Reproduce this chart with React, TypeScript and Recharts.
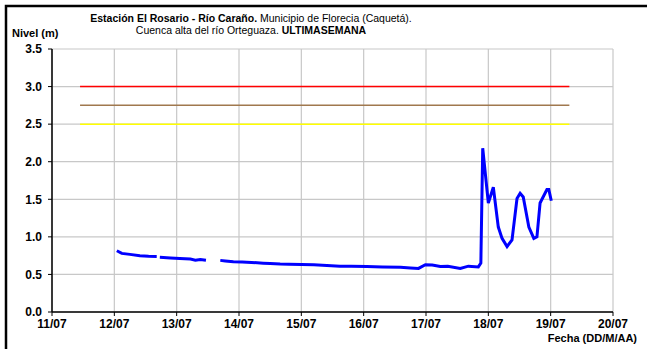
import { LineChart, Line, XAxis, YAxis, CartesianGrid, ReferenceLine } from 'recharts';

// fecha (dia de julio, fraccion = hora) y nivel en m; null = sin dato
const DAYS = [
  12.04, 12.12, 12.25, 12.41, 12.55, 12.68, 12.7, 12.73, 12.9, 13.05, 13.22, 13.3, 13.38, 13.47, 13.58,
  13.7, 13.78, 13.91, 14.05, 14.2, 14.39, 14.5, 14.66, 14.8, 15.0, 15.2, 15.41, 15.62, 15.8, 16.05,
  16.3, 16.59, 16.75, 16.88, 16.99, 17.1, 17.23, 17.35, 17.55, 17.68, 17.84, 17.88, 17.91, 18.0,
  18.08, 18.16, 18.22, 18.3, 18.38, 18.46, 18.51, 18.56, 18.65, 18.73, 18.78, 18.83, 18.94, 18.97, 19.01,
];
const LEVELS = [
  0.815, 0.78, 0.767, 0.749, 0.742, 0.74, null, 0.727, 0.72, 0.712, 0.705, 0.69, 0.7, 0.69, null,
  0.687, 0.68, 0.67, 0.665, 0.66, 0.65, 0.645, 0.638, 0.635, 0.632, 0.628, 0.62, 0.61, 0.608, 0.605,
  0.6, 0.594, 0.585, 0.58, 0.63, 0.625, 0.605, 0.61, 0.58, 0.61, 0.6, 0.65, 2.18, 1.45,
  1.66, 1.13, 0.98, 0.87, 0.96, 1.51, 1.58, 1.53, 1.13, 0.98, 1.0, 1.45, 1.63, 1.63, 1.48,
];

const X_TICKS = [11, 12, 13, 14, 15, 16, 17, 18, 19, 20];
const Y_TICKS = [0, 0.5, 1, 1.5, 2, 2.5, 3, 3.5];

// umbrales de alerta
const THRESHOLDS = [3.0, 2.75, 2.5];
const THRESHOLD_COLORS = ['#ff0000', '#a0784e', '#ffff00'];
const THRESHOLD_START = 11.45;
const THRESHOLD_END = 19.3;

const data = DAYS.map((d, i) => ({ d, v: LEVELS[i] }));

const FONT = 'Arial, "Liberation Sans", sans-serif';
const tickStyle = { fill: '#000', fontSize: 12, fontWeight: 'bold' as const, fontFamily: FONT };

export default function App() {
  return (
    <div style={{ position: 'absolute', left: 0, top: 0, width: 647, height: 349, background: '#fff', overflow: 'hidden' }}>
      <LineChart width={647} height={349} data={data} margin={{ top: 49, right: 34, bottom: 0, left: 0 }}>
        <CartesianGrid stroke="#c8c8c8" strokeWidth={1.2} />
        <XAxis
          type="number"
          dataKey="d"
          domain={[11, 20]}
          ticks={X_TICKS}
          tickFormatter={(t: number) => `${t}/07`}
          height={37}
          tick={tickStyle}
          tickSize={4}
          tickMargin={3}
          axisLine={{ stroke: '#000', strokeWidth: 1.5 }}
          tickLine={{ stroke: '#000' }}
          interval={0}
        />
        <YAxis
          type="number"
          domain={[0, 3.5]}
          ticks={Y_TICKS}
          tickFormatter={(t: number) => t.toFixed(1)}
          width={52}
          tick={tickStyle}
          tickSize={4}
          tickMargin={6}
          axisLine={{ stroke: '#000', strokeWidth: 1.5 }}
          tickLine={{ stroke: '#000' }}
          interval={0}
        />
        {THRESHOLDS.map((t, i) => (
          <ReferenceLine
            key={t}
            segment={[{ x: THRESHOLD_START, y: t }, { x: THRESHOLD_END, y: t }]}
            stroke={THRESHOLD_COLORS[i]}
            strokeWidth={1.5}
          />
        ))}
        <Line
          type="linear"
          dataKey="v"
          stroke="#0000ff"
          strokeWidth={3}
          dot={false}
          connectNulls={false}
          isAnimationActive={false}
        />
      </LineChart>

      <svg width={647} height={349} style={{ position: 'absolute', left: 0, top: 0, pointerEvents: 'none' }}>
        <rect x={6} y={6} width={700} height={400} fill="none" stroke="#000" strokeWidth={2.5} />
        <text x={251} y={22} textAnchor="middle" fontFamily={FONT} fontSize={10.5}>
          <tspan fontWeight="bold">Estación El Rosario - Río Caraño.</tspan>
          <tspan> Municipio de Florecia (Caquetá).</tspan>
        </text>
        <text x={251} y={34} textAnchor="middle" fontFamily={FONT} fontSize={10.5}>
          <tspan>Cuenca alta del río Orteguaza. </tspan>
          <tspan fontWeight="bold">ULTIMASEMANA</tspan>
        </text>
        <text x={12} y={37} fontFamily={FONT} fontSize={11} fontWeight="bold">Nivel (m)</text>
        <text x={637} y={342} textAnchor="end" fontFamily={FONT} fontSize={11} fontWeight="bold">Fecha (DD/M/AA)</text>
      </svg>
    </div>
  );
}
